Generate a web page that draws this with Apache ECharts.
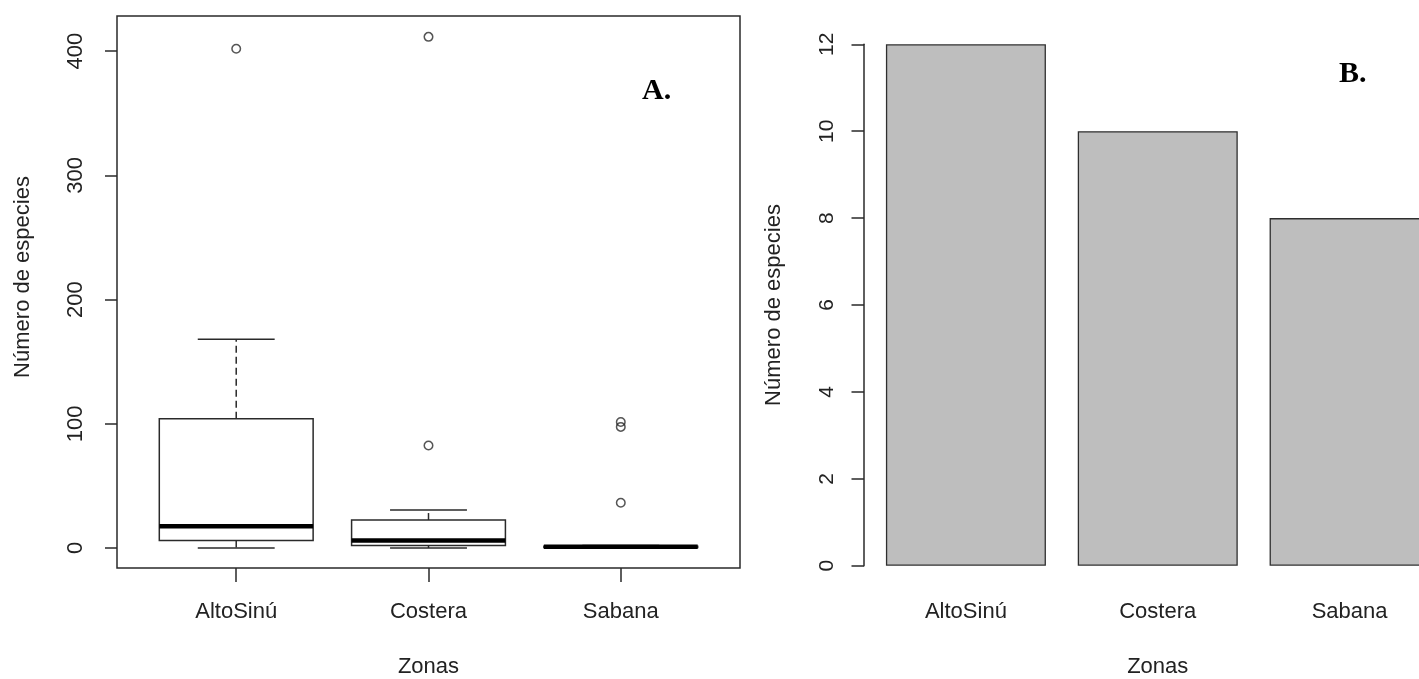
<!DOCTYPE html>
<html>
<head>
<meta charset="utf-8">
<script src="https://cdn.jsdelivr.net/npm/echarts@6/dist/echarts.min.js"></script>
<style>
  html, body { margin: 0; padding: 0; background: #fff; }
  #chart { width: 1419px; height: 679px; }
</style>
</head>
<body>
<div id="chart"></div>
<script>
// Zones sampled
const categories = ['AltoSinú', 'Costera', 'Sabana'];

// Box statistics per zone: [lower whisker, Q1, median, Q3, upper whisker]
const altoSinuStats = [0, 6, 17.5, 104, 168];
const costeraStats = [0, 2, 6, 22.5, 30.5];
const sabanaStats = [0, 0.5, 1, 1.5, 2];

// Outlying values per zone
const altoSinuOutliers = [402];
const costeraOutliers = [82.5, 411.5];
const sabanaOutliers = [36.5, 97.5, 101.5];

// Number of species per zone (panel B)
const especies = [12, 10, 8];

// Tick values
const ticksA = [0, 100, 200, 300, 400];
const ticksB = [0, 2, 4, 6, 8, 10, 12];

const boxStats = [altoSinuStats, costeraStats, sabanaStats];
const outliers = [altoSinuOutliers, costeraOutliers, sabanaOutliers];

const FONT = 'Liberation Sans, Arial, sans-serif';
const INK = '#222';
const LINE = '#2a2a2a';

const boxData = boxStats.map((s, i) => [i + 1].concat(s));
const outlierData = [];
outliers.forEach((arr, i) => arr.forEach(v => outlierData.push([i + 1, v])));

const BOX_HALF = 0.4;
const CAP_HALF = 0.2;

function renderBox(params, api) {
  const x = api.value(0);
  const lo = api.value(1), q1 = api.value(2), med = api.value(3), q3 = api.value(4), hi = api.value(5);
  const c = (xx, yy) => api.coord([xx, yy]);
  const tl = c(x - BOX_HALF, q3), br = c(x + BOX_HALF, q1);
  const stroke = { stroke: LINE, lineWidth: 1.5, fill: null };
  const dashed = { stroke: LINE, lineWidth: 1.5, lineDash: [7, 4] };
  const seg = (a, b, style) => ({
    type: 'line',
    shape: { x1: a[0], y1: a[1], x2: b[0], y2: b[1] },
    style: style
  });
  return {
    type: 'group',
    children: [
      seg(c(x, q3), c(x, hi), dashed),
      seg(c(x, q1), c(x, lo), dashed),
      seg(c(x - CAP_HALF, hi), c(x + CAP_HALF, hi), stroke),
      seg(c(x - CAP_HALF, lo), c(x + CAP_HALF, lo), stroke),
      {
        type: 'rect',
        shape: { x: tl[0], y: tl[1], width: br[0] - tl[0], height: br[1] - tl[1] },
        style: { stroke: LINE, lineWidth: 1.5, fill: '#fff' }
      },
      seg(c(x - BOX_HALF, med), c(x + BOX_HALF, med), { stroke: '#000', lineWidth: 4.5 })
    ]
  };
}

const chart = echarts.init(document.getElementById('chart'), null, { renderer: 'canvas' });

chart.setOption({
  animation: false,
  backgroundColor: '#fff',
  textStyle: { fontFamily: FONT },
  title: [
    {
      text: 'A.', left: 637, top: 71,
      textStyle: { fontFamily: 'Liberation Serif, Times New Roman, serif', fontWeight: 'bold', fontSize: 30, color: '#000' }
    },
    {
      text: 'B.', left: 1334, top: 54,
      textStyle: { fontFamily: 'Liberation Serif, Times New Roman, serif', fontWeight: 'bold', fontSize: 30, color: '#000' }
    }
  ],
  grid: [
    { left: 117, top: 16, width: 623, height: 552, outerBoundsMode: 'none', containLabel: false, show: true, borderColor: LINE, borderWidth: 1.5, backgroundColor: 'transparent' },
    { left: 870, top: 44.3, width: 575.5, height: 521.4, outerBoundsMode: 'none', containLabel: false }
  ],
  xAxis: [
    {
      gridIndex: 0, type: 'value', min: 0.38, max: 3.62,
      name: 'Zonas', nameLocation: 'middle', nameGap: 88,
      nameTextStyle: { fontSize: 22, color: INK, fontFamily: FONT },
      axisLine: { show: false, onZero: false },
      splitLine: { show: false },
      axisTick: { show: true, inside: false, length: 14, customValues: [1, 2, 3], lineStyle: { color: LINE, width: 1.5 } },
      axisLabel: {
        customValues: [1, 2, 3], margin: 33, fontSize: 22, color: INK, fontFamily: FONT,
        formatter: v => categories[Math.round(v) - 1] || ''
      }
    },
    {
      gridIndex: 1, type: 'category', data: categories,
      name: 'Zonas', nameLocation: 'middle', nameGap: 90,
      nameTextStyle: { fontSize: 22, color: INK, fontFamily: FONT },
      axisLine: { show: false, onZero: false },
      axisTick: { show: false },
      splitLine: { show: false },
      axisLabel: { margin: 35, fontSize: 22, color: INK, fontFamily: FONT }
    }
  ],
  yAxis: [
    {
      gridIndex: 0, type: 'value', min: -16.1, max: 428.3,
      name: 'Número de especies', nameLocation: 'middle', nameGap: 83,
      nameTextStyle: { fontSize: 22, color: INK, fontFamily: FONT, padding: [0, 0, 0, 30] },
      axisLine: { show: false, onZero: false },
      splitLine: { show: false },
      axisTick: { show: true, inside: false, length: 12, customValues: ticksA, lineStyle: { color: LINE, width: 1.5 } },
      axisLabel: { customValues: ticksA, rotate: 90, margin: 30, fontSize: 22, color: INK, fontFamily: FONT }
    },
    {
      gridIndex: 1, type: 'value', min: 0, max: 12, interval: 2, offset: 6,
      name: 'Número de especies', nameLocation: 'middle', nameGap: 79,
      nameTextStyle: { fontSize: 22, color: INK, fontFamily: FONT },
      axisLine: { show: true, onZero: false, lineStyle: { color: LINE, width: 1.5 } },
      splitLine: { show: false },
      axisTick: { show: true, inside: false, length: 12.5, customValues: ticksB, lineStyle: { color: LINE, width: 1.5 } },
      axisLabel: { customValues: ticksB, rotate: 90, margin: 26, fontSize: 21, color: INK, fontFamily: FONT }
    }
  ],
  series: [
    {
      type: 'custom', xAxisIndex: 0, yAxisIndex: 0,
      renderItem: renderBox,
      data: boxData,
      encode: { x: 0, y: [1, 2, 3, 4, 5] },
      z: 2
    },
    {
      type: 'scatter', xAxisIndex: 0, yAxisIndex: 0,
      data: outlierData,
      symbol: 'circle', symbolSize: 8.5,
      itemStyle: { color: 'transparent', borderColor: LINE, borderWidth: 1.5 },
      z: 3
    },
    {
      type: 'bar', xAxisIndex: 1, yAxisIndex: 1,
      data: especies,
      barWidth: 160,
      itemStyle: { color: '#bebebe', borderColor: '#2f2f2f', borderWidth: 1.3 }
    }
  ]
});
</script>
</body>
</html>
